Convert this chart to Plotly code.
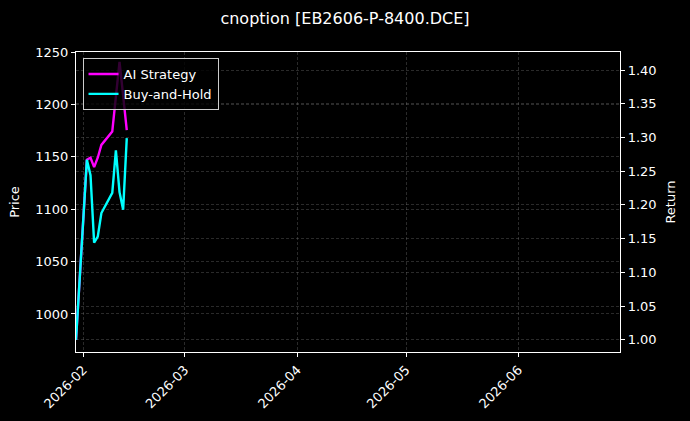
import plotly.graph_objects as go

dates = ["2026-01-30", "2026-02-02", "2026-02-03", "2026-02-04", "2026-02-05",
         "2026-02-06", "2026-02-09", "2026-02-10", "2026-02-11", "2026-02-12",
         "2026-02-13"]
ai_strategy = [1.000, 1.267, 1.270, 1.256, 1.270, 1.289, 1.309, 1.360, 1.412, 1.362, 1.311]
buy_and_hold = [1.000, 1.267, 1.244, 1.144, 1.153, 1.188, 1.218, 1.281, 1.219, 1.193, 1.299]

price_ticks = [1000, 1050, 1100, 1150, 1200, 1250]
return_ticks = [1.00, 1.05, 1.10, 1.15, 1.20, 1.25, 1.30, 1.35, 1.40]

font = "DejaVu Sans, Verdana, sans-serif"
grid = "rgba(140,140,140,0.3)"

fig = go.Figure()
# empty price trace so the left axis gets drawn
fig.add_trace(go.Scatter(x=[dates[0]], y=[price_ticks[0]], mode="markers",
                         marker=dict(size=0.1, opacity=0), showlegend=False,
                         hoverinfo="skip"))
fig.add_trace(go.Scatter(x=dates, y=ai_strategy, mode="lines", name="AI Strategy",
                         line=dict(color="#ff00ff", width=2.4), yaxis="y2"))
fig.add_trace(go.Scatter(x=dates, y=buy_and_hold, mode="lines", name="Buy-and-Hold",
                         line=dict(color="#00ffff", width=2.4), yaxis="y2"))

axis_style = dict(ticks="outside", ticklen=4, tickcolor="white",
                  showline=True, linecolor="white", linewidth=1.2,
                  showgrid=True, gridcolor=grid, griddash="3px,2px", gridwidth=0.7,
                  zeroline=False, automargin=False, tickfont=dict(size=13))

fig.update_layout(
    width=690, height=421,
    paper_bgcolor="black", plot_bgcolor="black",
    font=dict(family=font, color="white", size=13),
    title=dict(text="cnoption [EB2606-P-8400.DCE]", x=0.5, xanchor="center",
               y=1 - 18 / 421, yanchor="middle", font=dict(size=16)),
    margin=dict(l=76, r=70, t=52, b=69, autoexpand=False),
    legend=dict(x=0.012, y=0.98, xanchor="left", yanchor="top",
                bgcolor="rgba(0,0,0,0.8)", bordercolor="#cccccc", borderwidth=1,
                font=dict(size=13), tracegroupgap=0),
    xaxis=dict(type="date", range=["2026-01-30", "2026-06-29"],
               tickvals=["2026-02-01", "2026-03-01", "2026-04-01", "2026-05-01", "2026-06-01"],
               ticktext=["2026-02", "2026-03", "2026-04", "2026-05", "2026-06"],
               tickangle=-45, mirror=True, **axis_style),
    yaxis=dict(title=dict(text="Price", standoff=12, font=dict(size=13)),
               range=[963.7, 1250], tickvals=price_ticks, **axis_style),
    yaxis2=dict(title=dict(text="Return", standoff=10, font=dict(size=13)),
                overlaying="y", side="right",
                range=[0.982, 1.4267], tickvals=return_ticks, tickformat=".2f",
                **axis_style),
)

fig.write_html("out.html", post_script="document.body.style.margin='0';",
               config={"displayModeBar": False})
